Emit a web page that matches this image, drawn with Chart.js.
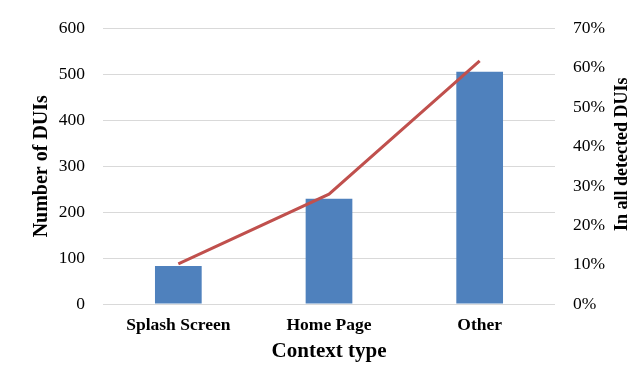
<!DOCTYPE html>
<html>
<head>
<meta charset="utf-8">
<script src="https://cdn.jsdelivr.net/npm/chart.js@4.4.1/dist/chart.umd.min.js"></script>
<style>
  html, body { margin: 0; padding: 0; background: #fff; }
  #wrap { width: 642px; height: 371px; position: relative; }
</style>
</head>
<body>
<div id="wrap"><canvas id="c" width="642" height="371"></canvas></div>
<script>
// Context types and DUI counts
const categories = ['Splash Screen', 'Home Page', 'Other'];
const duiCounts = [83, 229, 506];
// Share of all detected DUIs, in percent
const duiShare = [10.2, 27.9, 61.8];

const countTicks = [0, 100, 200, 300, 400, 500, 600];
const shareTicks = [0, 10, 20, 30, 40, 50, 60, 70];

const FONT = "'Liberation Serif', 'DejaVu Serif', serif";
const gridColor = '#d9d9d9';
const rightTitle = 'In all detected DUIs';

// Right axis title, read bottom-to-top like the left one
const rightTitlePlugin = {
  id: 'rightTitle',
  afterDraw(chart) {
    const ctx = chart.ctx;
    const area = chart.chartArea;
    ctx.save();
    ctx.translate(622, (area.top + area.bottom) / 2 - 12);
    ctx.rotate(-Math.PI / 2);
    ctx.font = "bold 18px " + FONT;
    ctx.fillStyle = '#000';
    ctx.textAlign = 'center';
    ctx.textBaseline = 'middle';
    ctx.fillText(rightTitle, 0, 0);
    ctx.restore();
  }
};

new Chart(document.getElementById('c'), {
  data: {
    labels: categories,
    datasets: [
      {
        type: 'line',
        data: duiShare,
        yAxisID: 'y2',
        borderColor: '#c0504d',
        borderWidth: 3,
        pointRadius: 0,
        tension: 0,
        order: 0
      },
      {
        type: 'bar',
        data: duiCounts,
        yAxisID: 'y',
        backgroundColor: '#4f81bd',
        barPercentage: 0.31,
        categoryPercentage: 1,
        order: 1
      }
    ]
  },
  plugins: [rightTitlePlugin],
  options: {
    responsive: false,
    animation: false,
    devicePixelRatio: 1,
    layout: { padding: { top: 27, left: 0, right: 0, bottom: 0 } },
    plugins: { legend: { display: false }, tooltip: { enabled: false } },
    scales: {
      x: {
        grid: { display: false, drawTicks: false },
        border: { display: false },
        ticks: { color: '#000', font: { family: FONT, size: 17.5, weight: 'bold' }, padding: 11 },
        title: {
          display: true, text: 'Context type', color: '#000',
          font: { family: FONT, size: 21, weight: 'bold' },
          padding: { top: 0, bottom: 7 }
        },
        afterFit: (s) => { s.height = 67; }
      },
      y: {
        position: 'left',
        min: 0, max: 600,
        afterBuildTicks: (s) => { s.ticks = countTicks.map(v => ({ value: v })); },
        grid: { color: gridColor, lineWidth: 1, drawTicks: false },
        border: { display: false },
        ticks: { color: '#000', font: { family: FONT, size: 17.5 }, padding: 18 },
        title: {
          display: true, text: 'Number of DUIs', color: '#000',
          font: { family: FONT, size: 20, weight: 'bold' },
          padding: { top: 30, bottom: 0 }
        },
        afterFit: (s) => { s.width = 103; }
      },
      y2: {
        position: 'right',
        min: 0, max: 70,
        afterBuildTicks: (s) => { s.ticks = shareTicks.map(v => ({ value: v })); },
        grid: { display: false, drawTicks: false },
        border: { display: false },
        ticks: {
          color: '#000', font: { family: FONT, size: 17.5 }, padding: 18,
          callback: (v) => v + '%'
        },
        afterFit: (s) => { s.width = 87; }
      }
    }
  }
});
</script>
</body>
</html>
